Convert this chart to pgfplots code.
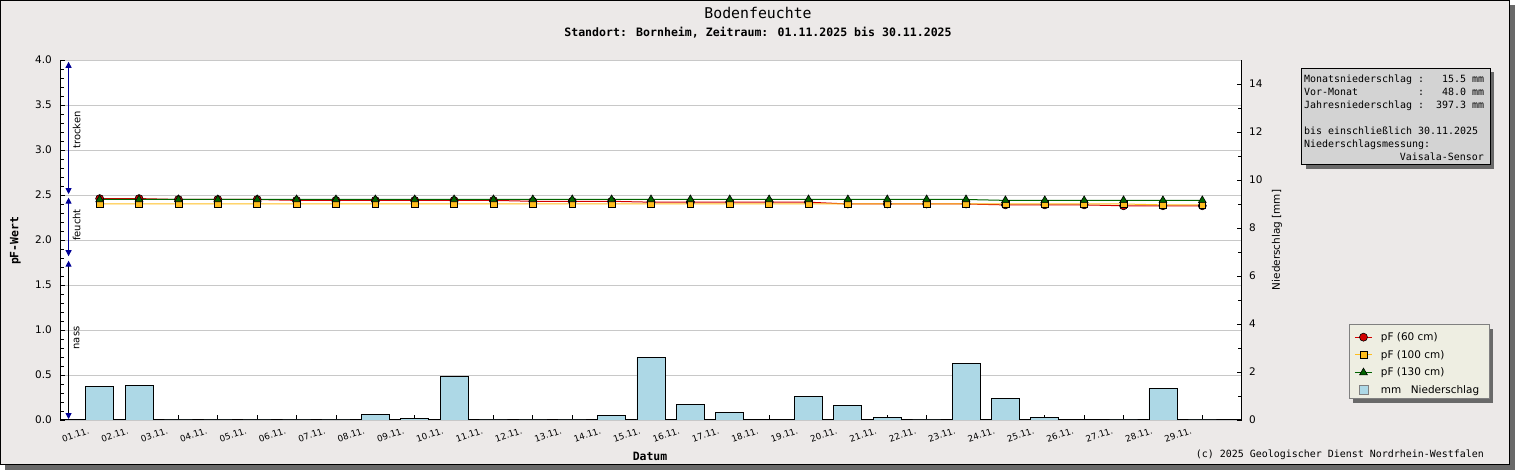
\documentclass[border=0pt]{standalone}
\usepackage{fontspec}
\setmainfont{DejaVu Sans}
\newfontfamily\mono{DejaVu Sans Mono}
\usepackage{pgfplots}
\usepackage{pgfplotstable}
\pgfplotsset{compat=1.18}
\usetikzlibrary{arrows.meta}
\definecolor{bg}{RGB}{236,233,232}
\definecolor{shadowgray}{RGB}{105,105,105}
\definecolor{boxgray}{RGB}{211,211,211}
\definecolor{legbg}{RGB}{238,238,226}
\definecolor{barblue}{RGB}{173,216,230}
\definecolor{cred}{RGB}{210,0,0}
\definecolor{corange}{RGB}{255,190,30}
\definecolor{cgreen}{RGB}{0,100,0}
\definecolor{arrowblue}{RGB}{0,0,150}
\definecolor{gridgray}{RGB}{200,200,200}

\pgfplotstableread{
day mm
1 1.40
2 1.45
3 0
4 0
5 0
6 0
7 0
8 0.24
9 0.07
10 1.82
11 0
12 0
13 0
14 0.20
15 2.61
16 0.65
17 0.32
18 0.03
19 0.99
20 0.61
21 0.11
22 0
23 2.36
24 0.90
25 0.11
26 0.03
27 0
28 1.32
29 0
}\rain

\pgfplotstableread{
day p60 p100 p130
1 2.46 2.40 2.45
2 2.46 2.40 2.45
3 2.45 2.40 2.45
4 2.45 2.40 2.45
5 2.45 2.40 2.45
6 2.44 2.40 2.45
7 2.44 2.40 2.45
8 2.44 2.40 2.45
9 2.44 2.40 2.45
10 2.44 2.40 2.45
11 2.44 2.40 2.45
12 2.43 2.40 2.45
13 2.43 2.40 2.45
14 2.43 2.40 2.45
15 2.42 2.40 2.45
16 2.42 2.40 2.45
17 2.42 2.40 2.45
18 2.42 2.40 2.45
19 2.42 2.40 2.45
20 2.40 2.40 2.45
21 2.40 2.40 2.45
22 2.40 2.40 2.45
23 2.40 2.40 2.45
24 2.39 2.40 2.44
25 2.39 2.40 2.44
26 2.39 2.40 2.44
27 2.38 2.40 2.44
28 2.38 2.39 2.44
29 2.38 2.39 2.44
}\pf

\def\s{\hphantom{0}}

\begin{document}
\begin{tikzpicture}[x=1bp,y=1bp]
\useasboundingbox (0,0) rectangle (1515,470);
\fill[shadowgray] (5,0) rectangle (1515,465);
\filldraw[fill=bg, draw=black, line width=1bp] (0.5,5.5) rectangle (1509.5,469.5);

% legend box with shadow
\fill[shadowgray] (1353.3,67.3) rectangle (1493.3,141.3);
\filldraw[fill=legbg, draw=gray, line width=0.8bp] (1349.3,71.3) rectangle (1489.3,145.3);

% pF axis (left)
\begin{axis}[
  at={(60.3bp,50bp)}, anchor=south west,
  scale only axis, width=1181.4bp, height=360bp,
  xmin=0, xmax=30, ymin=0, ymax=4,
  axis background/.style={fill=white},
  axis x line*=bottom, axis y line*=left,
  axis line style={black, line width=1bp},
  xtick={1,...,29},
  xticklabels={01.11.,02.11.,03.11.,04.11.,05.11.,06.11.,07.11.,08.11.,09.11.,10.11.,11.11.,12.11.,13.11.,14.11.,15.11.,16.11.,17.11.,18.11.,19.11.,20.11.,21.11.,22.11.,23.11.,24.11.,25.11.,26.11.,27.11.,28.11.,29.11.},
  xticklabel style={font=\fontsize{8.8}{10}\selectfont, inner sep=0pt, xshift=-12bp, yshift=-7bp, rotate=19, anchor=north east},
  ytick={0,0.5,...,4}, minor y tick num=4,
  ymajorgrids, grid style={gridgray, line width=0.8bp},
  tick align=inside, major tick length=5bp, minor tick length=4bp,
  tick style={black, line width=0.8bp},
  /pgf/number format/assume math mode=true,
  yticklabel style={font=\fontsize{10.5}{12}\selectfont, xshift=-5bp, /pgf/number format/.cd, fixed, fixed zerofill, precision=1},
  legend cell align=left,
  legend style={at={(1.0953,0.2492)}, anchor=north west, fill=none, draw=none, inner sep=0pt,
    font=\fontsize{10.5}{12}\selectfont, row sep=4.3bp,
    /tikz/every odd column/.append style={column sep=6.5bp}},
]
\addplot[color=cred, line width=1bp, mark=*, mark size=4bp, mark options={fill=cred, draw=black, line width=0.6bp}] table[x=day,y=p60]{\pf};
\addlegendentry{pF (60 cm)}
\addplot[color=corange, line width=1bp, mark=square*, mark size=3.4bp, mark options={fill=corange, draw=black, line width=0.6bp}] table[x=day,y=p100]{\pf};
\addlegendentry{pF (100 cm)}
\addplot[color=cgreen, line width=1bp, mark=triangle*, mark size=4.5bp, mark options={fill=cgreen, draw=black, line width=0.6bp}] table[x=day,y=p130]{\pf};
\addlegendentry{pF (130 cm)}
\addlegendimage{legend image code/.code={\draw[fill=barblue, draw=gray, line width=0.8bp] (4bp,-4.5bp) rectangle (13bp,4.5bp);}}
\addlegendentry{mm\hspace{9.5bp}Niederschlag}
% moisture class arrows
\draw[arrowblue, line width=1bp, {Triangle[length=6bp,width=6bp]}-{Triangle[length=6bp,width=6bp]}] (axis cs:0.21,3.98) -- (axis cs:0.21,2.51);
\draw[arrowblue, line width=1bp, {Triangle[length=6bp,width=6bp]}-{Triangle[length=6bp,width=6bp]}] (axis cs:0.21,2.47) -- (axis cs:0.21,1.82);
\draw[black, line width=1bp, {Triangle[length=6bp,width=6bp,color=arrowblue]}-{Triangle[length=6bp,width=6bp,color=arrowblue]}] (axis cs:0.21,1.77) -- (axis cs:0.21,0.01);
\end{axis}

% mm axis (right)
\begin{axis}[
  at={(60.3bp,50bp)}, anchor=south west,
  scale only axis, width=1181.4bp, height=360bp,
  xmin=0, xmax=30, ymin=0, ymax=15,
  axis x line=none, axis y line*=right,
  axis line style={black, line width=1bp},
  ytick={0,2,...,14}, minor ytick={1,3,...,13},
  tick align=inside, major tick length=5bp, minor tick length=4bp,
  tick style={black, line width=0.8bp},
  /pgf/number format/assume math mode=true,
  yticklabel style={font=\fontsize{10.5}{12}\selectfont, xshift=4bp},
]
\addplot[ybar, bar width=28bp, fill=barblue, draw=black, line width=0.8bp] table[x=day,y=mm]{\rain};
\end{axis}

% texts
\node[font=\mono\fontsize{14.9}{16}\selectfont, anchor=base] at (758,451) {Bodenfeuchte};
\node[font=\mono\bfseries\fontsize{11.6}{14}\selectfont, anchor=base] at (758,433) {Standort: Bornheim, Zeitraum: 01.11.2025 bis 30.11.2025};
\node[font=\mono\bfseries\fontsize{11.5}{13}\selectfont, anchor=base] at (650,9.3) {Datum};
\node[font=\mono\fontsize{10}{12}\selectfont, anchor=base east, inner sep=0] at (1484,12) {(c) 2025 Geologischer Dienst Nordrhein-Westfalen};
\node[font=\mono\bfseries\fontsize{11.5}{13}\selectfont, rotate=90] at (15.5,229.2) {pF-Wert};
\node[font=\fontsize{10.5}{12}\selectfont, rotate=90] at (1277,230) {Niederschlag [mm]};
\node[font=\fontsize{10}{12}\selectfont, rotate=90] at (76.7,340) {trocken};
\node[font=\fontsize{10}{12}\selectfont, rotate=90] at (76.7,245) {feucht};
\node[font=\fontsize{10}{12}\selectfont, rotate=90] at (76.7,132) {nass};

% info box
\fill[shadowgray] (1305.7,301) rectangle (1494,397.7);
\filldraw[fill=boxgray, draw=black, line width=1bp] (1301.7,305) rectangle (1490,401.7);
\begin{scope}[every node/.style={font=\mono\fontsize{10}{12}\selectfont, anchor=base west, inner sep=0}]
\node at (1304,387) {Monatsniederschlag\s:\s\s\s15.5\s mm};
\node at (1304,374) {Vor-Monat\s\s\s\s\s\s\s\s\s\s:\s\s\s48.0\s mm};
\node at (1304,361.4) {Jahresniederschlag\s:\s\s397.3\s mm};
\node at (1304,335.7) {bis\s einschließlich\s 30.11.2025};
\node at (1304,322.4) {Niederschlagsmessung:};
\node[anchor=base east] at (1484,309) {Vaisala-Sensor};
\end{scope}
\end{tikzpicture}
\end{document}
